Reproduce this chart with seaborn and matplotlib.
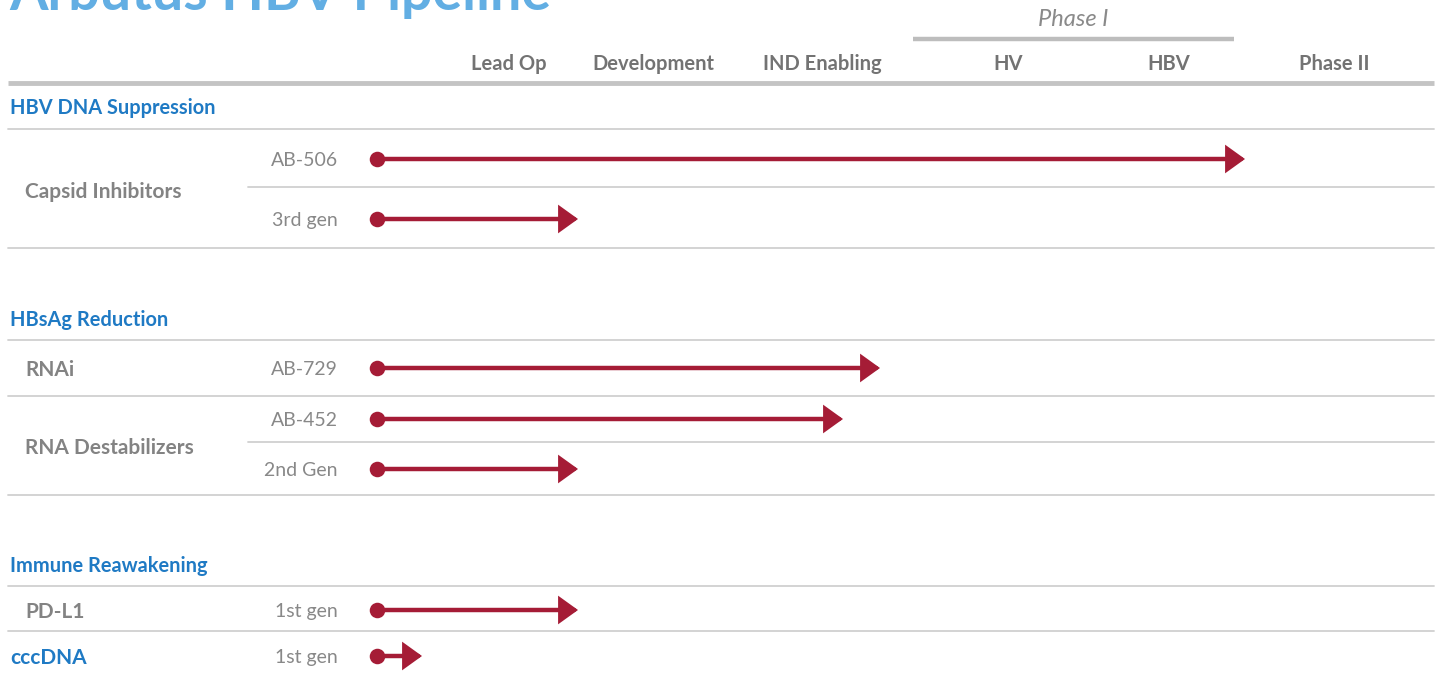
import matplotlib
matplotlib.use("Agg")
import matplotlib.pyplot as plt
import seaborn as sns
import pandas as pd

# ---------------- data ----------------
title = "Arbutus HBV Pipeline"
stages = ["Lead Op", "Development", "IND Enabling", "HV", "HBV", "Phase II"]
phase_group = "Phase I"
sections = ["HBV DNA Suppression", "HBsAg Reduction", "Immune Reawakening"]
categories = ["Capsid Inhibitors", "Capsid Inhibitors", "RNAi",
              "RNA Destabilizers", "RNA Destabilizers", "PD-L1", "cccDNA"]
drugs = ["AB-506", "3rd gen", "AB-729", "AB-452", "2nd Gen", "1st gen", "1st gen"]
progress_start = [377, 377, 377, 377, 377, 377, 377]
progress_end = [1245, 578, 880, 843, 578, 578, 422]

# ---------------- layout ----------------
W, H = 1444, 675
stage_x = [509, 653, 822, 1008, 1169, 1334]
row_y = [159, 219, 368, 419, 469, 610, 656]
section_y = [107, 318, 565]
cat_label = [("Capsid Inhibitors", 190, False), ("RNAi", 368, False),
             ("RNA Destabilizers", 446, False), ("PD-L1", 610, False),
             ("cccDNA", 656, True)]
full_lines = [129, 248, 340, 396, 495, 586, 631]
part_lines = [187, 442]
DY = 1.5  # small text baseline nudge

RED = "#A51C36"
BLUE = "#1F7AC4"
GRAY_T = "#737373"
LINE = "#D0D0D0"

sns.set_theme(style="white")
plt.rcParams["font.family"] = ["Lato", "DejaVu Sans"]

fig = plt.figure(figsize=(W / 100, H / 100), dpi=100)
ax = fig.add_axes([0, 0, 1, 1])

# title (cut off at top, as in the source)
ax.text(9, 10, title, fontsize=40, fontweight="bold", color="#62AEE3",
        ha="left", va="baseline")

# header
ax.text(1073, 18 + DY, phase_group, fontsize=17, fontstyle="italic",
        color="#8A8A8A", ha="center", va="center")
ax.plot([913, 1234], [39, 39], color="#BDBDBD", lw=3.2, solid_capstyle="butt")
for s, x in zip(stages, stage_x):
    ax.text(x, 62 + DY, s, fontsize=14.5, fontweight="bold", color=GRAY_T,
            ha="center", va="center")
ax.plot([8, 1434], [83, 83], color="#C4C4C4", lw=3.5, solid_capstyle="butt")

# separators
for y in full_lines:
    ax.plot([8, 1434], [y, y], color=LINE, lw=1.3)
for y in part_lines:
    ax.plot([248, 1434], [y, y], color=LINE, lw=1.3)

# sections
for s, y in zip(sections, section_y):
    ax.text(10, y + DY, s, fontsize=14.4, fontweight="bold", color=BLUE,
            ha="left", va="center")

# category labels
for name, y, blue in cat_label:
    ax.text(10 if blue else 25, y + DY, name, fontsize=15, fontweight="bold",
            color=BLUE if blue else "#838383", ha="left", va="center")

# drug labels
for d, y in zip(drugs, row_y):
    ax.text(338, y + DY, d, fontsize=14, color="#888888", ha="right", va="center")

df = pd.DataFrame({"drug": drugs, "category": categories,
                   "start": progress_start, "end": progress_end, "y": row_y})

# arrows
for _, r in df.iterrows():
    ax.annotate("", xy=(r["end"], r["y"]), xytext=(r["start"], r["y"]),
                arrowprops=dict(arrowstyle="-|>,head_length=0.5,head_width=0.36",
                                color=RED, lw=3.2, shrinkA=0, shrinkB=0,
                                mutation_scale=20, joinstyle="miter"))
sns.scatterplot(data=df, x="start", y="y", color=RED, s=125, edgecolor=RED,
                linewidth=0, ax=ax, zorder=5, legend=False)
ax.set_xlim(0, W)
ax.set_ylim(H, 0)
ax.axis("off")

fig.savefig("out.png", dpi=100)
